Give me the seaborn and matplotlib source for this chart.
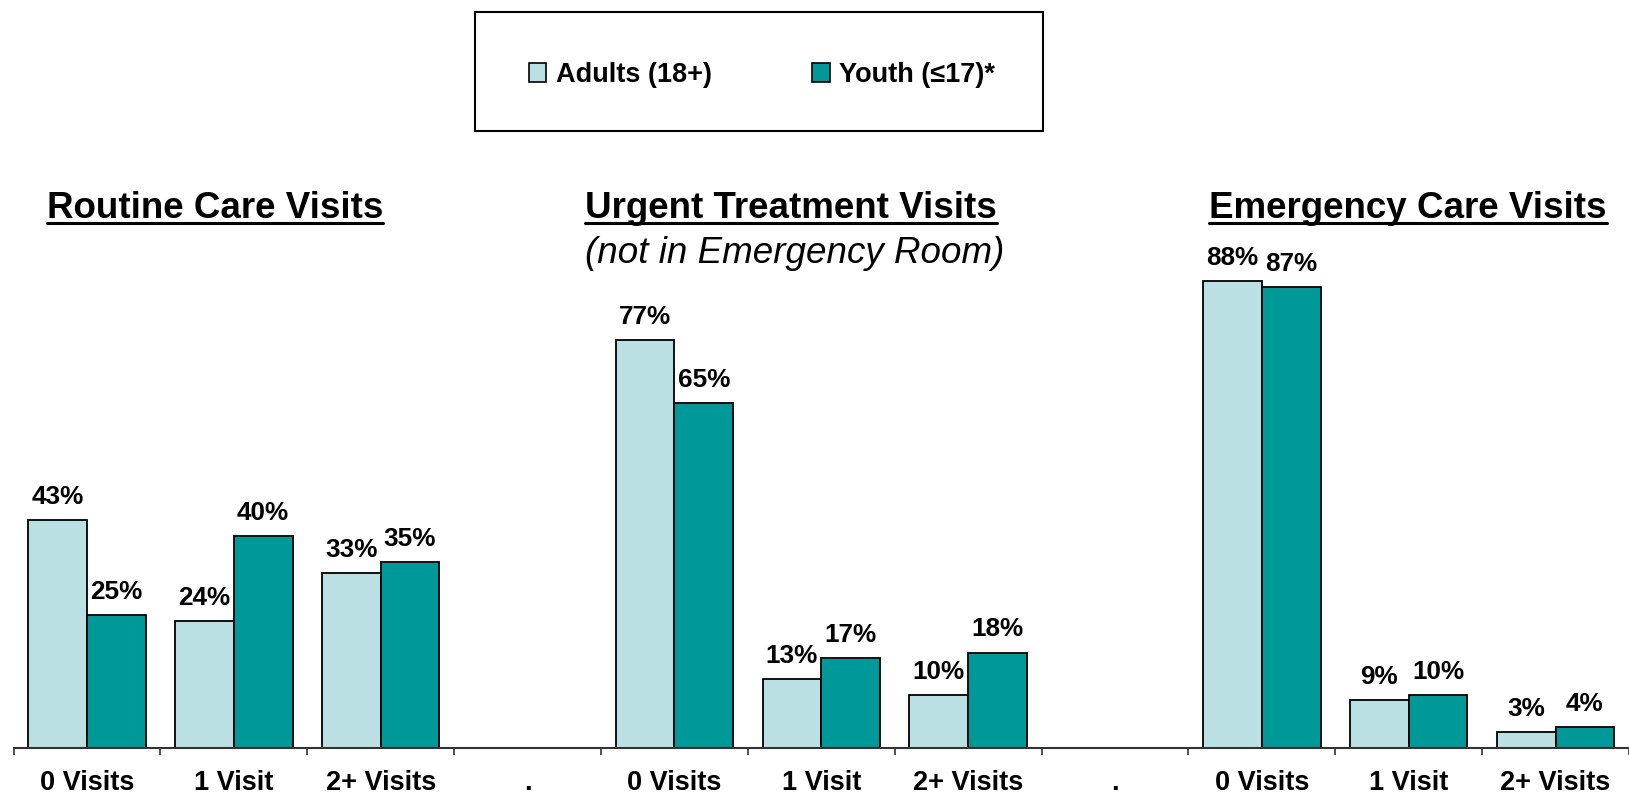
import pandas as pd
import seaborn as sns
import matplotlib.pyplot as plt
from matplotlib.patches import Patch, Rectangle
from matplotlib.lines import Line2D

# data
slots = ['rc_0', 'rc_1', 'rc_2', 'gap_a', 'ut_0', 'ut_1', 'ut_2', 'gap_b', 'ec_0', 'ec_1', 'ec_2']
tick_labels = ['0 Visits', '1 Visit', '2+ Visits', '.',
               '0 Visits', '1 Visit', '2+ Visits', '.',
               '0 Visits', '1 Visit', '2+ Visits']
adults = [43, 24, 33, None, 77, 13, 10, None, 88, 9, 3]
youth = [25, 40, 35, None, 65, 17, 18, None, 87, 10, 4]
series = ['Adults (18+)', 'Youth (\u226417)*']
colors = ['#BBE0E3', '#009999']

panel_titles = ['Routine Care Visits', 'Urgent Treatment Visits', 'Emergency Care Visits']
panel_subtitle = '(not in Emergency Room)'

sns.set_theme(style='white')
plt.rcParams['font.family'] = ['Liberation Sans', 'DejaVu Sans']
plt.rcParams['text.color'] = 'black'
plt.rcParams['xtick.color'] = 'black'

df = pd.DataFrame({
    'slot': slots * 2,
    'group': [series[0]] * len(slots) + [series[1]] * len(slots),
    'pct': adults + youth,
}).dropna()

W, H = 1629, 796
fig = plt.figure(figsize=(W / 100, H / 100), dpi=100)
ax = fig.add_axes([13.5 / W, (H - 748) / H, 1 - 13.5 / W, 525 / H])

sns.barplot(data=df, x='slot', y='pct', hue='group', order=slots, hue_order=series,
            palette=colors, saturation=1, edgecolor='black', linewidth=1.3,
            width=0.8, gap=0, legend=False, ax=ax)

ax.set_ylim(0, 99)
ax.set_xlim(-0.5, -0.5 + (W - 13.5) / 149.8)
ax.set_xlabel('')
ax.set_ylabel('')
ax.set_yticks([])
for side in ['top', 'right', 'left']:
    ax.spines[side].set_visible(False)
ax.spines['bottom'].set_color('#333333')
ax.spines['bottom'].set_linewidth(1.5)

ax.set_xticks(range(len(slots)))
ax.set_xticklabels(tick_labels, fontsize=19.5, fontweight='bold', color='black')
ax.set_xticks([i - 0.5 for i in range(len(slots) + 1)], minor=True)
ax.tick_params(axis='x', which='major', length=0, pad=16)
ax.tick_params(axis='x', which='minor', length=5, width=1.2, color='#333333',
               direction='out', bottom=True)

for cont in ax.containers:
    ax.bar_label(cont, fmt='%g%%', padding=8, fontsize=18.8, fontweight='bold', color='black')

# panel titles
title_x = [215, 791, 1408]
title_objs = []
for x, t in zip(title_x, panel_titles):
    title_objs.append(fig.text(x / W, 1 - 218 / H, t, ha='center', va='baseline',
                               fontsize=26.5, fontweight='bold'))
fig.text(795 / W, 1 - 263 / H, panel_subtitle, ha='center', va='baseline',
         fontsize=26.5, fontstyle='italic')

# underline titles
fig.canvas.draw()
renderer = fig.canvas.get_renderer()
for t in title_objs:
    bb = t.get_window_extent(renderer)
    y = (H - 223) / H
    fig.add_artist(Line2D([bb.x0 / W, bb.x1 / W], [y, y], transform=fig.transFigure,
                          color='black', lw=2.2))

# legend with box
handles = [Patch(facecolor=c, edgecolor='black', linewidth=1.2) for c in colors]
fig.legend(handles, series, loc='center', bbox_to_anchor=(762 / W, 1 - 75 / H), ncol=2,
           frameon=False, prop={'size': 19.5, 'weight': 'bold'},
           handlelength=0.65, handleheight=0.65, handletextpad=0.35, columnspacing=3.7)
fig.add_artist(Rectangle((475 / W, 1 - 131 / H), (1043 - 475) / W, (131 - 12.5) / H,
                         transform=fig.transFigure, fill=False, edgecolor='black', lw=1.5))

fig.savefig('out.png', dpi=100)
